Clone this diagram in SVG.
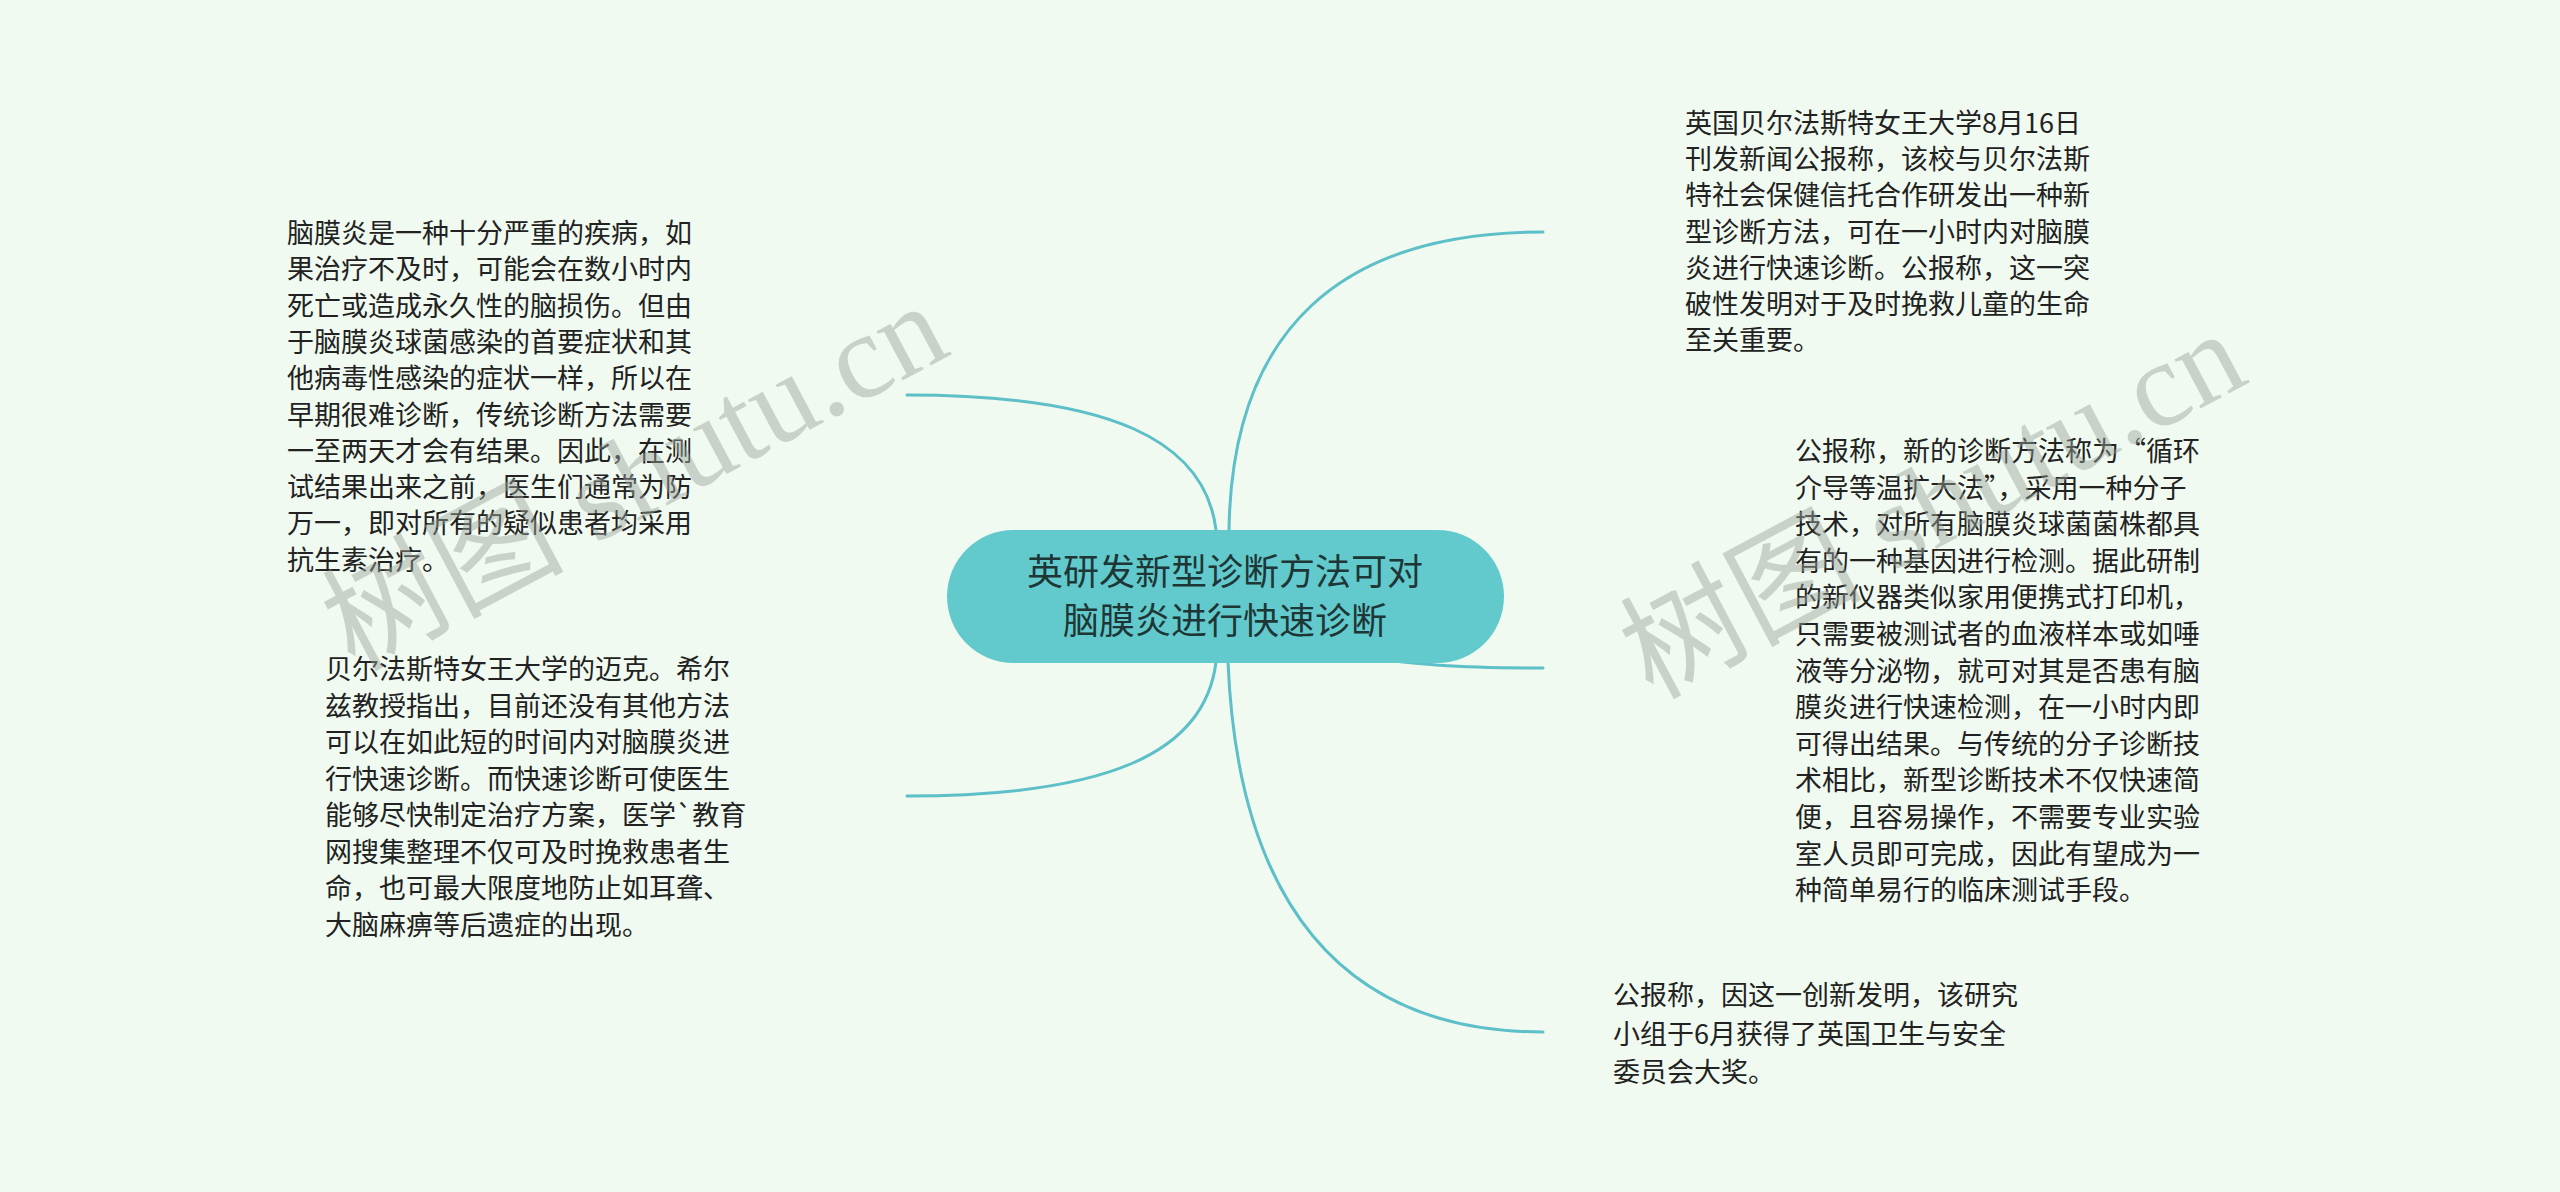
<svg xmlns="http://www.w3.org/2000/svg" width="2560" height="1192" viewBox="0 0 2560 1192">
<defs>
<style>
.bg{fill:#F0FAF0}
.link{fill:none;stroke:#5DBFC8;stroke-width:3;stroke-linecap:round}
.root{fill:#62CACC}
.rt{font-family:"Noto Sans CJK SC","Noto Sans",sans-serif;font-size:36px;fill:#1E3636;text-anchor:middle}
.t{font-family:"Noto Sans CJK SC","Noto Sans",sans-serif;font-size:27px;fill:#222222}
.wm{font-family:"Liberation Serif","Noto Sans CJK SC",serif;font-size:121px;fill:#9AA39C;opacity:0.45}
</style>
</defs>
<rect class="bg" x="0" y="0" width="2560" height="1192"/>
<g id="connectors">
<path class="link" d="M1216,530 C1205,440 1110,395 907,395"/>
<path class="link" d="M1216,662 C1205,752 1110,796 907,796"/>
<path class="link" d="M1229,530 C1232,330 1340,232 1543,232"/>
<path class="link" d="M1330,652 C1420,666 1460,668 1543,668"/>
<path class="link" d="M1228,662 C1238,900 1340,1032 1543,1032"/>
</g>
<g id="root">
<rect class="root" x="947" y="530" width="557" height="133" rx="66.5" ry="66.5"/>
<text class="rt" x="1225" y="585">英研发新型诊断方法可对</text>
<text class="rt" x="1225" y="634">脑膜炎进行快速诊断</text>
</g>
<g id="node-top-left">
<text class="t" x="287" y="243">脑膜炎是一种十分严重的疾病，如</text>
<text class="t" x="287" y="279.3">果治疗不及时，可能会在数小时内</text>
<text class="t" x="287" y="315.6">死亡或造成永久性的脑损伤。但由</text>
<text class="t" x="287" y="351.9">于脑膜炎球菌感染的首要症状和其</text>
<text class="t" x="287" y="388.2">他病毒性感染的症状一样，所以在</text>
<text class="t" x="287" y="424.5">早期很难诊断，传统诊断方法需要</text>
<text class="t" x="287" y="460.8">一至两天才会有结果。因此，在测</text>
<text class="t" x="287" y="497.1">试结果出来之前，医生们通常为防</text>
<text class="t" x="287" y="533.4">万一，即对所有的疑似患者均采用</text>
<text class="t" x="287" y="569.7">抗生素治疗。</text>
</g>
<g id="node-bottom-left">
<text class="t" x="325" y="679">贝尔法斯特女王大学的迈克。希尔</text>
<text class="t" x="325" y="715.5">兹教授指出，目前还没有其他方法</text>
<text class="t" x="325" y="752">可以在如此短的时间内对脑膜炎进</text>
<text class="t" x="325" y="788.5">行快速诊断。而快速诊断可使医生</text>
<text class="t" x="325" y="825">能够尽快制定治疗方案，医学`教育</text>
<text class="t" x="325" y="861.5">网搜集整理不仅可及时挽救患者生</text>
<text class="t" x="325" y="898">命，也可最大限度地防止如耳聋、</text>
<text class="t" x="325" y="934.5">大脑麻痹等后遗症的出现。</text>
</g>
<g id="node-top-right">
<text class="t" x="1685" y="133">英国贝尔法斯特女王大学8月16日</text>
<text class="t" x="1685" y="169.2">刊发新闻公报称，该校与贝尔法斯</text>
<text class="t" x="1685" y="205.4">特社会保健信托合作研发出一种新</text>
<text class="t" x="1685" y="241.6">型诊断方法，可在一小时内对脑膜</text>
<text class="t" x="1685" y="277.8">炎进行快速诊断。公报称，这一突</text>
<text class="t" x="1685" y="314">破性发明对于及时挽救儿童的生命</text>
<text class="t" x="1685" y="350.2">至关重要。</text>
</g>
<g id="node-middle-right">
<text class="t" x="1795" y="461">公报称，新的诊断方法称为“循环</text>
<text class="t" x="1795" y="497.6">介导等温扩大法”，采用一种分子</text>
<text class="t" x="1795" y="534.2">技术，对所有脑膜炎球菌菌株都具</text>
<text class="t" x="1795" y="570.8">有的一种基因进行检测。据此研制</text>
<text class="t" x="1795" y="607.4">的新仪器类似家用便携式打印机，</text>
<text class="t" x="1795" y="644">只需要被测试者的血液样本或如唾</text>
<text class="t" x="1795" y="680.6">液等分泌物，就可对其是否患有脑</text>
<text class="t" x="1795" y="717.2">膜炎进行快速检测，在一小时内即</text>
<text class="t" x="1795" y="753.8">可得出结果。与传统的分子诊断技</text>
<text class="t" x="1795" y="790.4">术相比，新型诊断技术不仅快速简</text>
<text class="t" x="1795" y="827">便，且容易操作，不需要专业实验</text>
<text class="t" x="1795" y="863.6">室人员即可完成，因此有望成为一</text>
<text class="t" x="1795" y="900.2">种简单易行的临床测试手段。</text>
</g>
<g id="node-bottom-right">
<text class="t" x="1613" y="1005">公报称，因这一创新发明，该研究</text>
<text class="t" x="1613" y="1043.5">小组于6月获得了英国卫生与安全</text>
<text class="t" x="1613" y="1082">委员会大奖。</text>
</g>
<g id="watermarks">
<text class="wm" transform="translate(354,672) rotate(-28)">树图 shutu.cn</text>
<text class="wm" transform="translate(1652,700) rotate(-28)">树图 shutu.cn</text>
</g>
</svg>
